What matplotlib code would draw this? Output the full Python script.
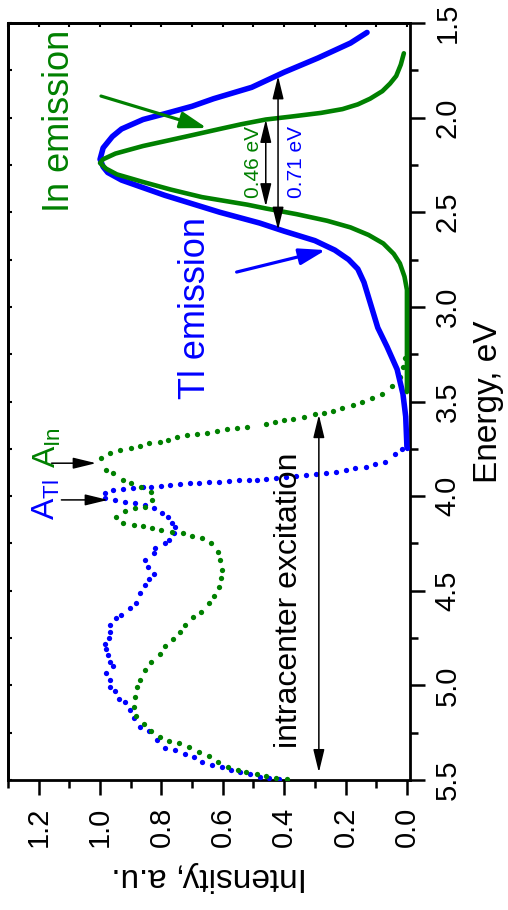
import numpy as np
import matplotlib
matplotlib.use("Agg")
import matplotlib.pyplot as plt

plt.rcParams['font.family'] = ['Liberation Sans', 'DejaVu Sans']
plt.rcParams['mathtext.default'] = 'regular'

# Tl emission (solid blue)
tl_em_E = [1.55, 1.606, 1.685, 1.76, 1.84, 1.90, 1.94, 1.98, 2.01, 2.06, 2.10, 2.16, 2.22, 2.26, 2.29,
           2.33, 2.37, 2.41, 2.445, 2.50, 2.557, 2.60, 2.65, 2.70, 2.75, 2.80, 2.87, 2.95, 3.03, 3.11,
           3.21, 3.33, 3.46, 3.58, 3.74]
tl_em_I = [0.13, 0.184, 0.29, 0.40, 0.506, 0.63, 0.70, 0.79, 0.86, 0.93, 0.96, 0.99, 1.0, 0.99, 0.975,
           0.93, 0.86, 0.79, 0.72, 0.61, 0.48, 0.40, 0.30, 0.235, 0.19, 0.16, 0.14, 0.125, 0.11, 0.095,
           0.065, 0.032, 0.013, 0.004, 0.0]

# In emission (solid green)
in_em_E = [1.66, 1.72, 1.78, 1.82, 1.86, 1.90, 1.93, 1.955, 1.975, 1.995, 2.01, 2.035, 2.06, 2.10, 2.15,
           2.19, 2.22, 2.24, 2.27, 2.30, 2.34, 2.38, 2.42, 2.46, 2.48, 2.51, 2.545, 2.58, 2.62, 2.665,
           2.72, 2.77, 2.84, 2.91, 3.45]
in_em_I = [0.01, 0.02, 0.035, 0.055, 0.08, 0.12, 0.16, 0.21, 0.28, 0.38, 0.46, 0.54, 0.61, 0.72, 0.86,
           0.95, 0.99, 1.0, 0.98, 0.945, 0.86, 0.77, 0.668, 0.52, 0.46, 0.36, 0.26, 0.184, 0.125, 0.077,
           0.043, 0.023, 0.008, 0.0, 0.0]

# In excitation (green dots)
in_ex_E = [3.27, 3.32, 3.37, 3.42, 3.46, 3.48, 3.50, 3.52, 3.535, 3.55, 3.56, 3.567, 3.58, 3.59, 3.60,
           3.61, 3.62, 3.635, 3.64, 3.645, 3.656, 3.667, 3.672, 3.678, 3.688, 3.704, 3.715, 3.72, 3.735,
           3.746, 3.757, 3.773, 3.80, 3.86, 3.88, 3.915, 3.93, 3.95, 3.98, 4.02, 4.06, 4.065, 4.08, 4.11,
           4.14, 4.155, 4.16, 4.17, 4.18, 4.19, 4.196, 4.21, 4.22, 4.25, 4.295, 4.34, 4.39, 4.43, 4.48,
           4.53, 4.565, 4.61, 4.64, 4.68, 4.72, 4.755, 4.79, 4.835, 4.877, 4.92, 4.97, 5.01, 5.06, 5.115,
           5.16, 5.205, 5.24, 5.275, 5.295, 5.305, 5.327, 5.35, 5.375, 5.405, 5.43, 5.445, 5.46, 5.47,
           5.48, 5.49, 5.495]
in_ex_I = [0.006, 0.013, 0.023, 0.048, 0.08, 0.113, 0.145, 0.177, 0.21, 0.24, 0.27, 0.30, 0.335, 0.37, 0.40,
           0.43, 0.46, 0.52, 0.555, 0.587, 0.62, 0.65, 0.684, 0.716, 0.748, 0.78, 0.806, 0.84, 0.87,
           0.90, 0.935, 0.968, 0.997, 0.98, 0.958, 0.926, 0.90, 0.868, 0.835, 0.83, 0.855, 0.887, 0.92, 0.948,
           0.926, 0.89, 0.86, 0.83, 0.80, 0.765, 0.73, 0.70, 0.668, 0.64, 0.616, 0.61, 0.603, 0.606, 0.613,
           0.63, 0.645, 0.67, 0.697, 0.723, 0.739, 0.761, 0.787, 0.806, 0.835, 0.852, 0.871, 0.88, 0.887, 0.89,
           0.884, 0.858, 0.835, 0.806, 0.774, 0.742, 0.71, 0.677, 0.645, 0.616, 0.584, 0.552, 0.523, 0.49,
           0.458, 0.426, 0.39]

# Tl excitation (blue dots)
tl_ex_E = [3.745, 3.75, 3.78, 3.82, 3.83, 3.846, 3.85, 3.86, 3.87, 3.88, 3.885, 3.89, 3.895, 3.90, 3.905,
           3.91, 3.915, 3.915, 3.915, 3.92, 3.925, 3.925, 3.93, 3.93, 3.935, 3.94, 3.945, 3.95, 3.95, 3.955,
           3.96, 3.97, 3.985, 4.01, 4.02, 4.03, 4.035, 4.045, 4.065, 4.09, 4.11, 4.14, 4.165, 4.195, 4.23,
           4.25, 4.275, 4.30, 4.34, 4.375, 4.41, 4.44, 4.47, 4.51, 4.565, 4.59, 4.63, 4.645, 4.68, 4.72,
           4.75, 4.78, 4.81, 4.84, 4.875, 4.90, 4.935, 4.97, 5.01, 5.03, 5.07, 5.09, 5.13, 5.17, 5.22, 5.24,
           5.29, 5.33, 5.34, 5.365, 5.38, 5.405, 5.42, 5.43, 5.445, 5.46, 5.47, 5.485, 5.49, 5.495]
tl_ex_I = [0.0, 0.016, 0.039, 0.071, 0.103, 0.135, 0.168, 0.2, 0.232, 0.265, 0.297, 0.329, 0.36, 0.394, 0.426,
           0.458, 0.49, 0.516, 0.548, 0.58, 0.613, 0.645, 0.677, 0.706, 0.739, 0.771, 0.803, 0.835, 0.861, 0.894,
           0.926, 0.958, 0.984, 0.984, 0.952, 0.919, 0.887, 0.855, 0.823, 0.797, 0.777, 0.765, 0.755, 0.758, 0.774,
           0.79, 0.82, 0.823, 0.852, 0.845, 0.823, 0.839, 0.852, 0.871, 0.884, 0.903, 0.932, 0.948, 0.968, 0.968,
           0.97, 0.984, 0.98, 0.975, 0.968, 0.958, 0.98, 0.968, 0.968, 0.952, 0.939, 0.919, 0.903, 0.89, 0.871, 0.84,
           0.813, 0.787, 0.755, 0.723, 0.694, 0.668, 0.635, 0.603, 0.574, 0.545, 0.513, 0.48, 0.448, 0.416]

BLUE = '#0000FF'
GREEN = '#008000'

fig = plt.figure(figsize=(5.08, 9.10), dpi=100)
ax = fig.add_axes([8 / 508, 1 - 780 / 910, 402 / 508, 757 / 910])

ax.plot(tl_ex_I, tl_ex_E, 'o', color=BLUE, ms=3.8, mew=0, zorder=3)
ax.plot(in_ex_I, in_ex_E, 'o', color=GREEN, ms=3.8, mew=0, zorder=3)
ax.plot(tl_em_I, tl_em_E, '-', color=BLUE, lw=4, solid_capstyle='round', solid_joinstyle='round', zorder=4)
ax.plot(in_em_I, in_em_E, '-', color=GREEN, lw=3.3, solid_capstyle='round', solid_joinstyle='round', zorder=5)

ax.set_xlim(1.29, -0.01)
ax.set_ylim(5.5, 1.5)

# ticks
ax.xaxis.set_ticks_position('bottom')
ax.yaxis.tick_right()
ax.yaxis.set_label_position('right')
ax.set_xticks(np.arange(0, 1.21, 0.2))
ax.set_xticks(np.arange(0, 1.31, 0.1), minor=True)
ax.set_xticklabels(['%.1f' % v for v in np.arange(0, 1.21, 0.2)])
ax.set_yticks(np.arange(1.5, 5.51, 0.5))
ax.set_yticks(np.arange(1.5, 5.51, 0.25), minor=True)
ax.tick_params(which='major', direction='out', length=11, width=1.8, labelsize=21)
ax.tick_params(which='minor', direction='out', length=5.5, width=1.8)
ax.tick_params(axis='x', which='major', pad=8, labelrotation=90)
ax.tick_params(axis='y', which='major', pad=6, labelrotation=90)
for lab in ax.get_yticklabels():
    lab.set_va('center')

for sp in ax.spines.values():
    sp.set_linewidth(2.0)

sec_top = ax.secondary_xaxis('top')
sec_top.set_xticks(np.arange(0, 1.31, 0.1))
sec_top.tick_params(direction='in', length=3, width=1.5, labeltop=False)
sec_top.spines['top'].set_linewidth(2.0)
sec_left = ax.secondary_yaxis('left')
sec_left.set_yticks(np.arange(1.5, 5.51, 0.25))
sec_left.tick_params(direction='in', length=3, width=1.5, labelleft=False)
sec_left.spines['left'].set_linewidth(2.0)

ax.set_ylabel('Energy, eV', fontsize=24, rotation=90, labelpad=8)
ax.set_xlabel('Intensity, a.u.', fontsize=24, rotation=180, labelpad=10)

# labels
ax.text(1.132, 2.018, 'In emission', color=GREEN, fontsize=26, rotation=90, ha='center', va='center')
ax.text(0.690, 3.006, 'Tl emission', color=BLUE, fontsize=26, rotation=90, ha='center', va='center')
ax.text(0.384, 4.55, 'intracenter excitation', color='k', fontsize=23, rotation=90, ha='center', va='center')
ax.text(0.50, 2.235, '0.46 eV', color=GREEN, fontsize=15, rotation=90, ha='center', va='center', zorder=2)
ax.text(0.361, 2.235, '0.71 eV', color=BLUE, fontsize=15, rotation=90, ha='center', va='center')
ax.text(1.171, 3.746, r'A$_{In}$', color=GREEN, fontsize=23, rotation=90, ha='center', va='center')
ax.text(1.174, 4.016, r'A$_{Tl}$', color=BLUE, fontsize=23, rotation=90, ha='center', va='center')

# arrows
dbl = dict(arrowstyle='<|-|>,head_length=0.7,head_width=0.17', color='k', lw=1.1,
           mutation_scale=20, shrinkA=0, shrinkB=0)
one = dict(arrowstyle='-|>,head_length=0.7,head_width=0.17', color='k', lw=1.1,
           mutation_scale=20, shrinkA=0, shrinkB=0)
ax.annotate('', xy=(0.42, 2.594), xytext=(0.42, 1.78), arrowprops=dbl, zorder=6)
ax.annotate('', xy=(0.46, 2.47), xytext=(0.46, 2.01), arrowprops=dbl, zorder=6)
ax.annotate('', xy=(0.287, 5.46), xytext=(0.287, 3.57), arrowprops=dbl, zorder=6)
ax.annotate('', xy=(1.013, 3.826), xytext=(1.158, 3.826), arrowprops=one, zorder=6)
ax.annotate('', xy=(0.974, 4.02), xytext=(1.126, 4.02), arrowprops=one, zorder=6)
ax.annotate('', xy=(0.652, 2.055), xytext=(0.997, 1.886),
            arrowprops=dict(arrowstyle='-|>,head_length=0.8,head_width=0.25', color=GREEN, lw=2.3,
                            mutation_scale=20, shrinkA=0, shrinkB=0), zorder=6)
ax.annotate('', xy=(0.265, 2.70), xytext=(0.555, 2.816),
            arrowprops=dict(arrowstyle='-|>,head_length=0.8,head_width=0.25', color=BLUE, lw=2.3,
                            mutation_scale=20, shrinkA=0, shrinkB=0), zorder=6)

fig.savefig('out.png', dpi=100)
